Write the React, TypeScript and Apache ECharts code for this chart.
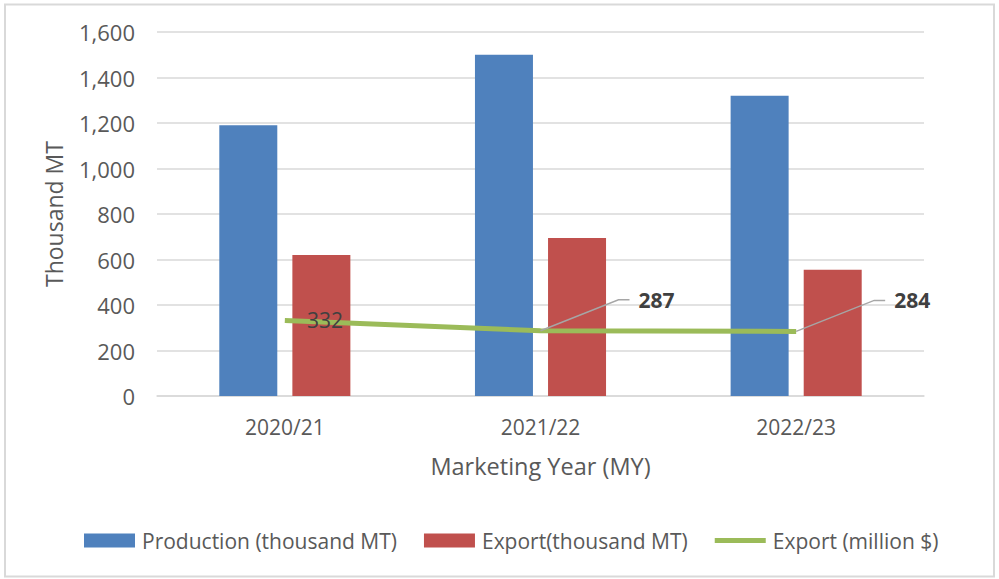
import React, { useEffect, useRef } from "react";
import * as echarts from "echarts";

const categories = ["2020/21", "2021/22", "2022/23"];
const production = [1190, 1500, 1320];
const exportVolume = [620, 695, 555];
const exportValue = [332, 287, 284];
const seriesNames = ["Production (thousand MT)", "Export(thousand MT)", "Export (million $)"];

const FONT = "Open Sans";
// leader-line offsets (px) for labels moved away from their points
const LEAD_DX = 78;
const LEAD_DY = -31;
const LEAD_H = 11;

export default function App() {
  const ref = useRef<HTMLDivElement>(null);
  useEffect(() => {
    document.body.style.margin = "0";
    const chart = echarts.init(ref.current!, null, { renderer: "svg" });
    const border = {
      type: "rect",
      shape: { x: 5, y: 4.5, width: 989, height: 572 },
      style: { fill: "none", stroke: "#d9d9d9", lineWidth: 2 },
      silent: true,
    };
    chart.setOption({
      animation: false,
      backgroundColor: "#ffffff",
      textStyle: { fontFamily: FONT },
      graphic: [border],
      grid: { left: 157, right: 75, top: 32, bottom: 183, containLabel: false },
      legend: {
        left: 79,
        top: 525,
        itemWidth: 51,
        itemHeight: 14,
        itemGap: 27,
        textStyle: { fontFamily: FONT, fontSize: 21, color: "#595959", padding: [0, 0, 0, 2] },
        data: [
          { name: seriesNames[0], icon: "rect" },
          { name: seriesNames[1], icon: "rect" },
          { name: seriesNames[2], icon: "path://M0,0H51V5H0Z" },
        ],
      },
      xAxis: {
        type: "category",
        data: categories,
        name: "Marketing Year (MY)",
        nameLocation: "middle",
        nameGap: 58,
        nameTextStyle: { fontFamily: FONT, fontSize: 23.5, color: "#595959" },
        axisLine: { lineStyle: { color: "#d9d9d9", width: 1.5 } },
        axisTick: { show: false },
        axisLabel: { fontFamily: FONT, fontSize: 21, color: "#595959", margin: 20 },
      },
      yAxis: {
        type: "value",
        min: 0,
        max: 1600,
        interval: 200,
        name: "Thousand MT",
        nameLocation: "middle",
        nameGap: 92,
        nameTextStyle: { fontFamily: FONT, fontSize: 23, color: "#595959" },
        axisLine: { show: false },
        axisTick: { show: false },
        splitLine: { lineStyle: { color: "#d9d9d9", width: 1.5 } },
        axisLabel: {
          fontFamily: FONT,
          fontSize: 22,
          color: "#595959",
          margin: 22,
          formatter: (v: number) => v.toLocaleString("en-US"),
        },
      },
      series: [
        {
          name: seriesNames[0],
          type: "bar",
          data: production,
          barWidth: 58,
          barGap: "26%",
          itemStyle: { color: "#4F81BD" },
        },
        {
          name: seriesNames[1],
          type: "bar",
          data: exportVolume,
          barWidth: 58,
          barGap: "26%",
          itemStyle: { color: "#C0504D" },
        },
        {
          name: seriesNames[2],
          type: "line",
          data: exportValue.map((v, i) => ({
            value: v,
            label:
              i === 0
                ? { fontWeight: "normal", distance: 22 }
                : { fontWeight: "bold" },
          })),
          symbol: "circle",
          symbolSize: 0.1,
          showSymbol: true,
          lineStyle: { color: "#9BBB59", width: 5 },
          itemStyle: { color: "#9BBB59" },
          z: 5,
          label: {
            show: true,
            position: "right",
            fontFamily: FONT,
            fontSize: 21,
            color: "#404040",
          },
          labelLayout: (p: any) =>
            p.dataIndex === 0 ? {} : { dx: LEAD_DX + LEAD_H + 4, dy: LEAD_DY },
        },
      ],
    });
    const leaders = exportValue
      .map((v, i) => ({ v, i }))
      .filter((d) => d.i > 0)
      .map((d) => {
        const [px, py] = chart.convertToPixel({ seriesIndex: 2 }, [d.i, d.v]) as number[];
        return {
          type: "polyline",
          silent: true,
          z: 10,
          shape: {
            points: [
              [px, py],
              [px + LEAD_DX, py + LEAD_DY],
              [px + LEAD_DX + LEAD_H, py + LEAD_DY],
            ],
          },
          style: { fill: "none", stroke: "#a6a6a6", lineWidth: 1.5 },
        };
      });
    chart.setOption({ graphic: [border, ...leaders] });
    return () => chart.dispose();
  }, []);
  return <div ref={ref} style={{ width: 999, height: 579 }} />;
}
